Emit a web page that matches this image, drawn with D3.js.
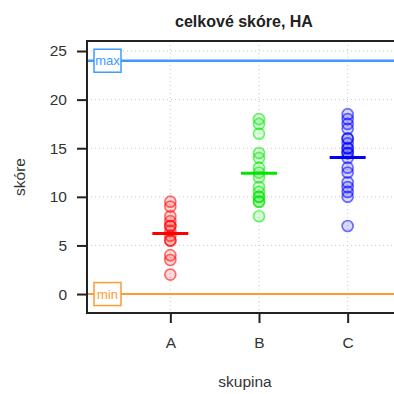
<!DOCTYPE html>
<html>
<head>
<meta charset="utf-8">
<script src="https://cdn.jsdelivr.net/npm/d3@7"></script>
<style>
  body { margin: 0; background: #fff; }
  svg { font-family: "Liberation Sans", Arial, sans-serif; }
</style>
</head>
<body>
<div id="chart"></div>
<script>
// data
const groups = ['A', 'B', 'C'];
const scoresA = [9.5, 9, 8, 7.5, 7, 7, 6.5, 6, 5.5, 5.5, 4, 3.5, 2];
const scoresB = [18, 17.5, 16.5, 14.5, 14, 13, 12.5, 12, 11, 10.5, 10, 10, 9.5, 9.5, 8];
const scoresC = [18.5, 18, 17.5, 17, 16, 16, 15.5, 15, 15, 14.5, 14.5, 14, 13, 12.5, 11.5, 11, 10.5, 10, 7];
const groupColors = ['#ff0000', '#00e600', '#0000ff'];
const yTicks = [0, 5, 10, 15, 20, 25];
const limits = [{ label: 'max', value: 24, color: '#3d9bff' }, { label: 'min', value: 0, color: '#ff9933' }];

const scores = [scoresA, scoresB, scoresC];

const width = 394, height = 394;
const plot = { left: 87, right: 431, top: 41, bottom: 313 };

const svg = d3.select('#chart').append('svg')
  .attr('width', width)
  .attr('height', height);

const x = d3.scalePoint()
  .domain(groups)
  .range([plot.left, plot.right])
  .padding(0.94);

const y = d3.scaleLinear()
  .domain([-1.95, 26.03])
  .range([plot.bottom, plot.top]);

// grid
const grid = svg.append('g')
  .attr('stroke', '#c8c8c8')
  .attr('stroke-width', 1)
  .attr('stroke-dasharray', '1,3');

grid.selectAll('line.h')
  .data(yTicks.filter(d => d > 0))
  .join('line')
  .attr('class', 'h')
  .attr('x1', plot.left).attr('x2', plot.right)
  .attr('y1', d => y(d)).attr('y2', d => y(d));

grid.selectAll('line.v')
  .data(groups)
  .join('line')
  .attr('class', 'v')
  .attr('x1', d => x(d)).attr('x2', d => x(d))
  .attr('y1', plot.top).attr('y2', plot.bottom);

// max / min reference lines
limits.forEach(l => {
  svg.append('line')
    .attr('x1', plot.left).attr('x2', plot.right)
    .attr('y1', y(l.value)).attr('y2', y(l.value))
    .attr('stroke', l.color)
    .attr('stroke-width', l.label === 'max' ? 2.5 : 2);
  svg.append('rect')
    .attr('x', 94).attr('y', y(l.value) - 11.5)
    .attr('width', 27).attr('height', 23)
    .attr('fill', '#fff')
    .attr('stroke', l.color)
    .attr('stroke-width', 1.5);
  svg.append('text')
    .attr('x', 107.5).attr('y', y(l.value) + 4.5)
    .attr('text-anchor', 'middle')
    .attr('font-size', 13)
    .attr('fill', l.color)
    .text(l.label);
});

// points
groups.forEach((g, i) => {
  const col = groupColors[i];
  svg.append('g')
    .selectAll('circle')
    .data(scores[i])
    .join('circle')
    .attr('cx', x(g))
    .attr('cy', d => y(d))
    .attr('r', 5.5)
    .attr('fill', col)
    .attr('fill-opacity', 0.15)
    .attr('stroke', col)
    .attr('stroke-opacity', 0.55)
    .attr('stroke-width', 1.7);

  const m = d3.mean(scores[i]);
  svg.append('line')
    .attr('x1', x(g) - 18).attr('x2', x(g) + 18)
    .attr('y1', y(m)).attr('y2', y(m))
    .attr('stroke', col)
    .attr('stroke-width', 3);
});

// frame
svg.append('path')
  .attr('d', `M${plot.right},${plot.top}H${plot.left}V${plot.bottom}H${plot.right}`)
  .attr('fill', 'none')
  .attr('stroke', '#222')
  .attr('stroke-width', 2);

// axes
const yAxis = svg.append('g')
  .attr('transform', `translate(${plot.left},0)`)
  .call(d3.axisLeft(y).tickValues(yTicks).tickSize(10).tickPadding(10));
const xAxis = svg.append('g')
  .attr('transform', `translate(0,${plot.bottom})`)
  .call(d3.axisBottom(x).tickSize(10).tickPadding(14));

[yAxis, xAxis].forEach(a => {
  a.select('.domain').remove();
  a.selectAll('.tick line').attr('stroke', '#222').attr('stroke-width', 2);
  a.selectAll('.tick text')
    .attr('font-size', 15.5)
    .attr('font-family', '"Liberation Sans", Arial, sans-serif')
    .attr('fill', '#333');
});

// titles
svg.append('text')
  .attr('x', 244).attr('y', 27)
  .attr('text-anchor', 'middle')
  .attr('font-size', 16)
  .attr('font-weight', 'bold')
  .attr('fill', '#222')
  .text('celkové skóre, HA');

svg.append('text')
  .attr('x', 245).attr('y', 387)
  .attr('text-anchor', 'middle')
  .attr('font-size', 15.5)
  .attr('fill', '#333')
  .text('skupina');

svg.append('text')
  .attr('transform', 'translate(25,177) rotate(-90)')
  .attr('text-anchor', 'middle')
  .attr('font-size', 15.5)
  .attr('fill', '#333')
  .text('skóre');
</script>
</body>
</html>
